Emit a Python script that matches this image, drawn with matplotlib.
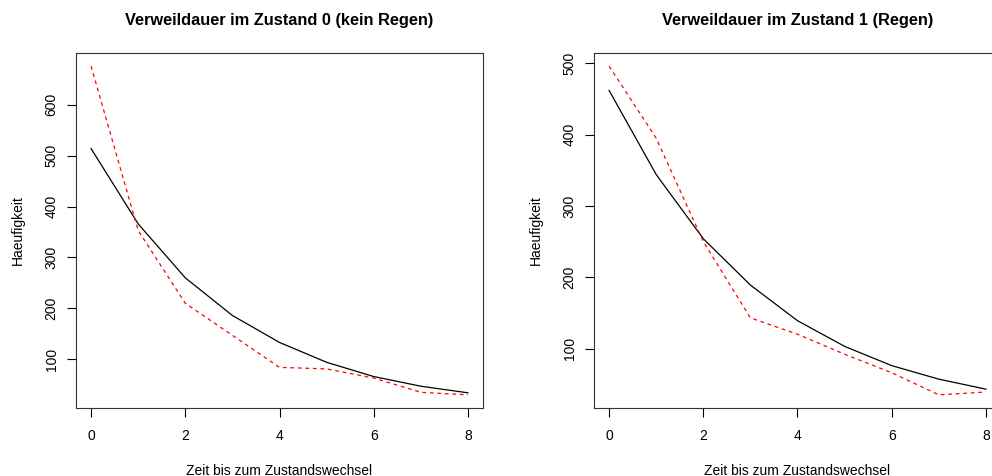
import numpy as np
import matplotlib.pyplot as plt

plt.rcParams['font.family'] = ['Liberation Sans', 'DejaVu Sans']

# Zeit bis zum Zustandswechsel (Tage)
zeit = [0, 1, 2, 3, 4, 5, 6, 7, 8]

# Zustand 0 (kein Regen): beobachtet (schwarz) und Modell (rot, gestrichelt)
z0_beob = [514, 366, 260, 186, 133, 94, 66, 47, 34]
z0_modell = [676, 353, 210, 147, 84, 81, 63, 35, 30]

# Zustand 1 (Regen)
z1_beob = [462, 344, 254, 189, 139, 103, 76, 57, 43]
z1_modell = [496, 395, 250, 143, 120, 92, 66, 35, 39]

titel = ['Verweildauer im Zustand 0 (kein Regen)',
         'Verweildauer im Zustand 1 (Regen)']
yticks = [[100, 200, 300, 400, 500, 600], [100, 200, 300, 400, 500]]

W, H = 992, 476
fig = plt.figure(figsize=(W / 100, H / 100), dpi=100)

# Plotbereiche in Pixeln (links, rechts), wie bei par(mfrow=c(1,2)) in R
boxes = [(76, 483), (594, 1001)]
unten, oben = 408, 53

panels = [(z0_beob, z0_modell), (z1_beob, z1_modell)]
for i, ((x0, x1), (beob, modell)) in enumerate(zip(boxes, panels)):
    ax = fig.add_axes([x0 / W, (H - unten) / H, (x1 - x0) / W, (unten - oben) / H])
    ax.plot(zeit, beob, color='black', lw=0.9)
    ax.plot(zeit, modell, color='red', lw=0.9, linestyle=(0, (3, 3)))

    alle = beob + modell
    lo, hi = min(alle), max(alle)
    r = hi - lo
    ax.set_xlim(-0.32, 8.32)
    ax.set_ylim(lo - 0.04 * r, hi + 0.04 * r)

    ax.set_xticks([0, 2, 4, 6, 8])
    ax.set_yticks(yticks[i])
    ax.tick_params(axis='both', direction='out', length=6.5, width=0.8,
                   labelsize=10, color='black')
    ax.tick_params(axis='x', pad=8.5)
    ax.tick_params(axis='y', pad=6)
    for lab in ax.get_yticklabels():
        lab.set_rotation(90)
        lab.set_va('center')

    for s in ax.spines.values():
        s.set_linewidth(0.8)
        s.set_color('#333333')

    ax.set_xlabel('Zeit bis zum Zustandswechsel', fontsize=10, labelpad=15)
    ax.set_ylabel('Haeufigkeit', fontsize=10, labelpad=14)
    ax.set_title(titel[i], fontsize=11.8, fontweight='bold', pad=20)

fig.savefig('out.png', dpi=100)
